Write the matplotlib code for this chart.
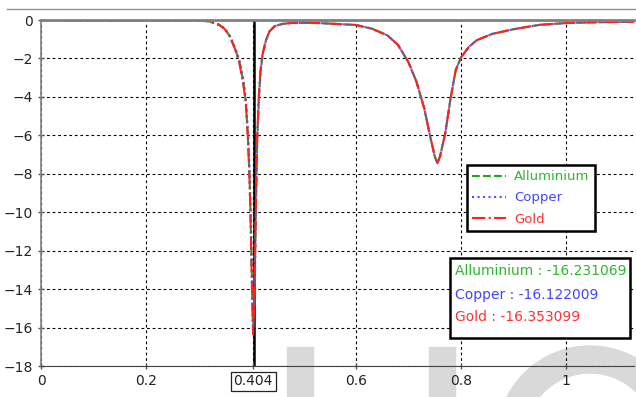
import matplotlib
matplotlib.use("Agg")
import matplotlib.pyplot as plt
from matplotlib.lines import Line2D
from matplotlib.patches import Rectangle, Wedge

# frequency points (shared by the three materials)
freq = [0.0, 0.05, 0.1, 0.15, 0.2, 0.25, 0.28, 0.30, 0.32, 0.34, 0.35, 0.36, 0.37, 0.378,
        0.385, 0.39, 0.394, 0.397, 0.399, 0.401, 0.4025, 0.404, 0.406, 0.408, 0.410, 0.412,
        0.415, 0.418, 0.422, 0.428, 0.435, 0.445, 0.46, 0.48, 0.52, 0.56, 0.60, 0.63, 0.66,
        0.68, 0.70, 0.715, 0.73, 0.74, 0.75, 0.755, 0.76, 0.77, 0.78, 0.79, 0.80, 0.815,
        0.83, 0.86, 0.90, 0.95, 1.0, 1.05, 1.1, 1.14]

aluminium = [0.0, -0.02, -0.05, -0.04, -0.02, -0.03, -0.02, -0.03, -0.07, -0.26, -0.46, -0.86,
             -1.5, -2.2, -3.2, -4.2, -6.0, -8.0, -10.0, -12.5, -14.5, -16.231069, -15.0, -12.0,
             -8.6, -6.0, -4.0, -2.7, -1.8, -1.1, -0.6, -0.32, -0.2, -0.15, -0.15, -0.2, -0.26,
             -0.45, -0.8, -1.3, -2.2, -3.2, -4.6, -5.9, -7.1, -7.45, -7.1, -5.9, -4.1, -2.6,
             -1.95, -1.4, -1.05, -0.72, -0.48, -0.25, -0.16, -0.12, -0.1, -0.1]

copper = [0.0, -0.02, -0.05, -0.04, -0.02, -0.03, -0.02, -0.03, -0.06, -0.24, -0.44, -0.83,
          -1.45, -2.1, -3.0, -4.0, -5.7, -7.6, -9.6, -12.0, -14.0, -16.122009, -15.4, -12.6,
          -9.0, -6.3, -4.2, -2.8, -1.85, -1.12, -0.6, -0.32, -0.2, -0.15, -0.15, -0.2, -0.26,
          -0.45, -0.8, -1.3, -2.2, -3.2, -4.6, -5.9, -7.1, -7.45, -7.1, -5.9, -4.1, -2.6,
          -1.95, -1.4, -1.05, -0.72, -0.48, -0.25, -0.16, -0.12, -0.1, -0.1]

gold = [0.0, -0.02, -0.05, -0.04, -0.02, -0.03, -0.02, -0.03, -0.07, -0.27, -0.47, -0.88,
        -1.55, -2.25, -3.3, -4.3, -6.1, -8.1, -10.2, -12.8, -14.8, -16.353099, -14.8, -11.8,
        -8.4, -5.9, -3.9, -2.65, -1.78, -1.08, -0.6, -0.32, -0.2, -0.15, -0.15, -0.2, -0.26,
        -0.45, -0.8, -1.3, -2.2, -3.2, -4.6, -5.9, -7.1, -7.45, -7.1, -5.9, -4.1, -2.6,
        -1.95, -1.4, -1.05, -0.72, -0.48, -0.25, -0.16, -0.12, -0.1, -0.1]

names = ["Alluminium", "Copper", "Gold"]
marker_x = 0.404
marker_vals = [-16.231069, -16.122009, -16.353099]
xtick_vals = [0, 0.2, 0.404, 0.6, 0.8, 1]
xtick_labels = ["0", "0.2", "0.404", "0.6", "0.8", "1"]
ytick_vals = [0, -2, -4, -6, -8, -10, -12, -14, -16, -18]

colors = ["#1aa81a", "#5050ff", "#ff2020"]
text_colors = ["#2db82d", "#4444ff", "#ff3030"]
styles = ["--", ":", "-."]

fig = plt.figure(figsize=(6.36, 3.97), dpi=100)
ax = fig.add_axes([41 / 636, 31 / 397, 593 / 636, 346 / 397])
ax.set_facecolor("none")

# faint watermark shapes at the bottom
wm = "#d9d9d9"
for x0 in [2.87, 4.29]:
    fig.add_artist(Rectangle((x0, 0), 0.26, 0.50, transform=fig.dpi_scale_trans,
                             color=wm, zorder=-5))
fig.add_artist(Wedge((5.90, -0.42), 0.93, 0, 360, width=0.27, transform=fig.dpi_scale_trans,
                     color=wm, zorder=-5))
fig.add_artist(Line2D([7 / 636, 1], [1 - 9 / 397, 1 - 9 / 397], color="#909090", lw=1))

series = [aluminium, copper, gold]
for vals, name, c, ls in zip(series, names, colors, styles):
    ax.plot(freq, vals, ls, color=c, lw=1.5, label=name)

# marker line sits just right of the dotted grid line at 0.404
ax.axvline(marker_x + 0.0015, color="black", lw=1.8, zorder=1.5)

ax.set_xlim(0, 593 / 525)
ax.set_ylim(-18, 0)
ax.set_xticks(xtick_vals)
ax.set_xticklabels(xtick_labels)
ax.set_yticks(ytick_vals)
ax.grid(True, color="black", ls=(0, (2.5, 2.5)), lw=0.8)
ax.tick_params(direction="inout", length=5, width=1, colors="#555555", labelcolor="#222222",
               labelsize=10)

for lab in ax.get_xticklabels():
    if lab.get_text() == "0.404":
        lab.set_bbox(dict(facecolor="white", edgecolor="#222222", boxstyle="square,pad=0.2",
                          lw=0.9))

ax.spines["top"].set_color("#808080")
ax.spines["top"].set_linewidth(2)
ax.spines["left"].set_color("#808080")
ax.spines["left"].set_linewidth(1.2)
ax.spines["bottom"].set_color("#444444")
ax.spines["right"].set_visible(False)

leg = ax.legend(loc="upper left", bbox_to_anchor=(0.718, 0.581), borderaxespad=0,
                fancybox=False, framealpha=1, edgecolor="black", fontsize=9.5,
                handlelength=2.6, handletextpad=0.6, labelspacing=0.62)
leg.get_frame().set_linewidth(1.8)
for t, c in zip(leg.get_texts(), text_colors):
    t.set_color(c)

# value readout box
ax.add_patch(Rectangle((0.690, 0.081), 0.303, 0.231, transform=ax.transAxes, facecolor="white",
                       edgecolor="black", lw=1.8, zorder=6))
ys = [0.2746, 0.205, 0.1416]
for name, v, c, y in zip(names, marker_vals, text_colors, ys):
    ax.text(0.698, y, "%s : %.6f" % (name, v), color=c, fontsize=10, transform=ax.transAxes,
            va="center", ha="left", zorder=7)

fig.savefig("out.png", dpi=100)
